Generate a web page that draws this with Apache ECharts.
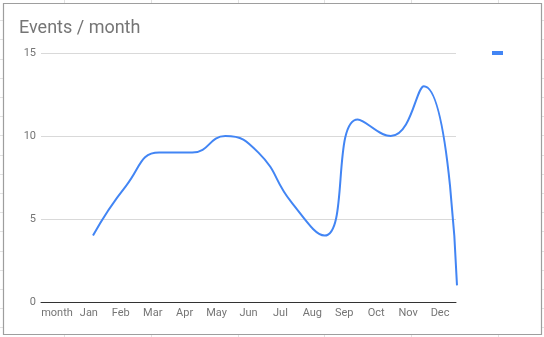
<!DOCTYPE html>
<html>
<head>
<meta charset="utf-8">
<script src="https://cdn.jsdelivr.net/npm/echarts@6/dist/echarts.min.js"></script>
<style>
html,body{margin:0;padding:0;background:#fff;}
#c{width:544px;height:337px;}
</style>
</head>
<body>
<div id="c"></div>
<script>
// Axis categories (the first band is the stray "month" header category)
var axisCategories = ['month', 'Jan', 'Feb', 'Mar', 'Apr', 'May', 'Jun', 'Jul', 'Aug', 'Sep', 'Oct', 'Nov', 'Dec'];
// Line categories and values
var months = ['Jan', 'Feb', 'Mar', 'Apr', 'May', 'Jun', 'Jul', 'Aug', 'Sep', 'Oct', 'Nov', 'Dec'];
var events = [4, 7, 9, 9, 10, 9, 6, 4, 11, 10, 13, 1];
var yTicks = [0, 5, 10, 15];
var seriesName = 'Events';

var chart = echarts.init(document.getElementById('c'), null, {renderer: 'canvas'});

var deco = [];
deco.push({type: 'rect', shape: {x: 3.5, y: 3.5, width: 538, height: 331}, style: {fill: null, stroke: '#9e9e9e', lineWidth: 1.2}, silent: true, z: 100});
var colXs = [64, 151, 238, 324, 411, 498];
colXs.forEach(function (x) {
  deco.push({type: 'line', shape: {x1: x + 0.5, y1: 0, x2: x + 0.5, y2: 3}, style: {stroke: '#e2e2e2', lineWidth: 1}, silent: true});
  deco.push({type: 'line', shape: {x1: x + 0.5, y1: 335, x2: x + 0.5, y2: 337}, style: {stroke: '#e2e2e2', lineWidth: 1}, silent: true});
});
for (var k = 1; k < 18; k++) {
  var yy = Math.round(1 + 19.2 * k) + 0.5;
  deco.push({type: 'line', shape: {x1: 0, y1: yy, x2: 3, y2: yy}, style: {stroke: '#e2e2e2', lineWidth: 1}, silent: true});
  deco.push({type: 'line', shape: {x1: 542, y1: yy, x2: 544, y2: yy}, style: {stroke: '#e2e2e2', lineWidth: 1}, silent: true});
}

var labelStyle = {color: '#757575', fontSize: 11, fontFamily: 'Roboto'};

chart.setOption({
  animation: false,
  backgroundColor: '#fff',
  textStyle: {fontFamily: 'Roboto'},
  title: {
    text: 'Events / month',
    left: 19, top: 19, padding: 0,
    textStyle: {color: '#757575', fontSize: 18, fontWeight: 'normal', fontFamily: 'Roboto'}
  },
  legend: {
    left: 492, top: 51, padding: 0,
    icon: 'rect', itemWidth: 11, itemHeight: 4,
    data: [seriesName],
    formatter: function () { return ''; },
    textStyle: {fontSize: 1}
  },
  grid: [
    {left: 41, right: 88, top: 53, bottom: 35},
    {left: 93, right: 87, top: 53, bottom: 35}
  ],
  xAxis: [
    {
      type: 'category', gridIndex: 0, data: axisCategories, boundaryGap: true,
      axisLine: {lineStyle: {color: '#333', width: 1}},
      axisTick: {show: false},
      axisLabel: Object.assign({margin: 6, interval: 0}, labelStyle),
      splitLine: {show: false}
    },
    {
      type: 'category', gridIndex: 1, data: months, boundaryGap: false, show: false
    }
  ],
  yAxis: [
    {
      type: 'value', gridIndex: 0, min: yTicks[0], max: yTicks[yTicks.length - 1], interval: 5,
      axisLine: {show: false}, axisTick: {show: false},
      axisLabel: Object.assign({margin: 5}, labelStyle),
      splitLine: {lineStyle: {color: '#d9d9d9', width: 1}}
    },
    {
      type: 'value', gridIndex: 1, min: yTicks[0], max: yTicks[yTicks.length - 1], interval: 5, show: false,
      splitLine: {show: false}
    }
  ],
  series: [{
    name: seriesName,
    type: 'line',
    xAxisIndex: 1, yAxisIndex: 1,
    data: events,
    smooth: 0.5,
    symbol: 'none',
    color: '#4285f4',
    lineStyle: {color: '#4285f4', width: 2}
  }],
  graphic: deco
});
</script>
</body>
</html>
